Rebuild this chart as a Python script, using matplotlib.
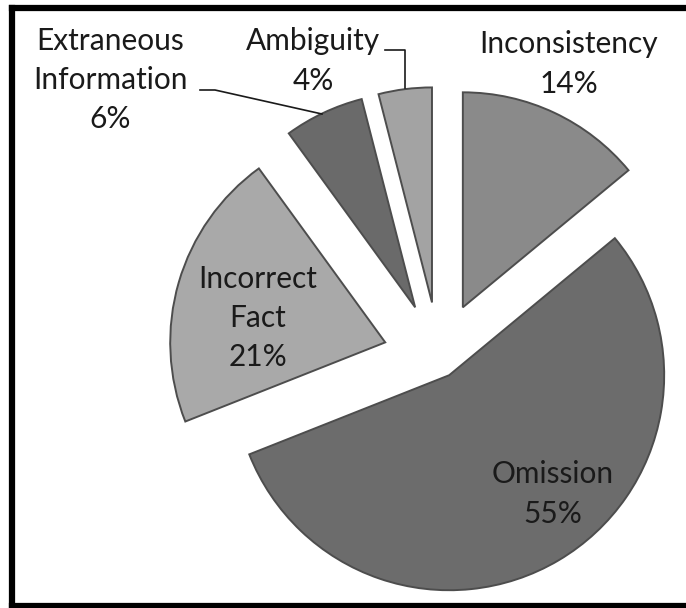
import matplotlib
matplotlib.use("Agg")
import matplotlib.pyplot as plt

# === Data ===
categories = ["Inconsistency", "Omission", "Incorrect\nFact", "Extraneous\nInformation", "Ambiguity"]
shares = [14, 55, 21, 6, 4]

# === Style ===
slice_colors = ["#8a8a8a", "#6c6c6c", "#a9a9a9", "#6a6a6a", "#a3a3a3"]
explode_px = [56, 20, 56, 56, 56]
W, H = 686, 608

def fy(y):
    # image-style y (top=0) to axis y
    return H - y

plt.rcParams["font.family"] = ["Lato", "DejaVu Sans"]

fig = plt.figure(figsize=(W / 100, H / 100), dpi=100)
ax = fig.add_axes([0, 0, 1, 1])

wedges, _ = ax.pie(shares, startangle=90, counterclock=False, radius=215,
                   center=(439, fy(358)), explode=explode_px, colors=slice_colors,
                   wedgeprops=dict(edgecolor="#4d4d4d", linewidth=1.4))

ax.set_xlim(0, W)
ax.set_ylim(0, H)
ax.set_aspect("equal")
ax.axis("off")

# === Labels ===
txt = dict(fontsize=21.5, color="#1a1a1a", ha="center", va="center", linespacing=1.5)
ax.text(569, fy(64), f"{categories[0]}\n{shares[0]}%", **txt)
ax.text(553, fy(494), f"{categories[1]}\n{shares[1]}%", **txt)
ax.text(258, fy(318), f"{categories[2]}\n{shares[2]}%", **txt)
ax.text(110, fy(80), f"{categories[3]}\n{shares[3]}%", **txt)
ax.text(313, fy(61), f"{categories[4]}\n{shares[4]}%", **txt)

# === Leader lines ===
ax.plot([200, 215, 322], [fy(90), fy(90), fy(114)], color="#1a1a1a", lw=1.2)
ax.plot([385, 405, 405], [fy(50), fy(50), fy(88)], color="#1a1a1a", lw=1.2)

# === Frame ===
ax.plot([12, 12], [fy(8), fy(607)], color="black", lw=4.5, solid_capstyle="projecting")
ax.plot([12, 700], [fy(8), fy(8)], color="black", lw=4.5, solid_capstyle="projecting")
ax.plot([12, 700], [fy(606), fy(606)], color="black", lw=4.5)

fig.savefig("out.png", dpi=100)
